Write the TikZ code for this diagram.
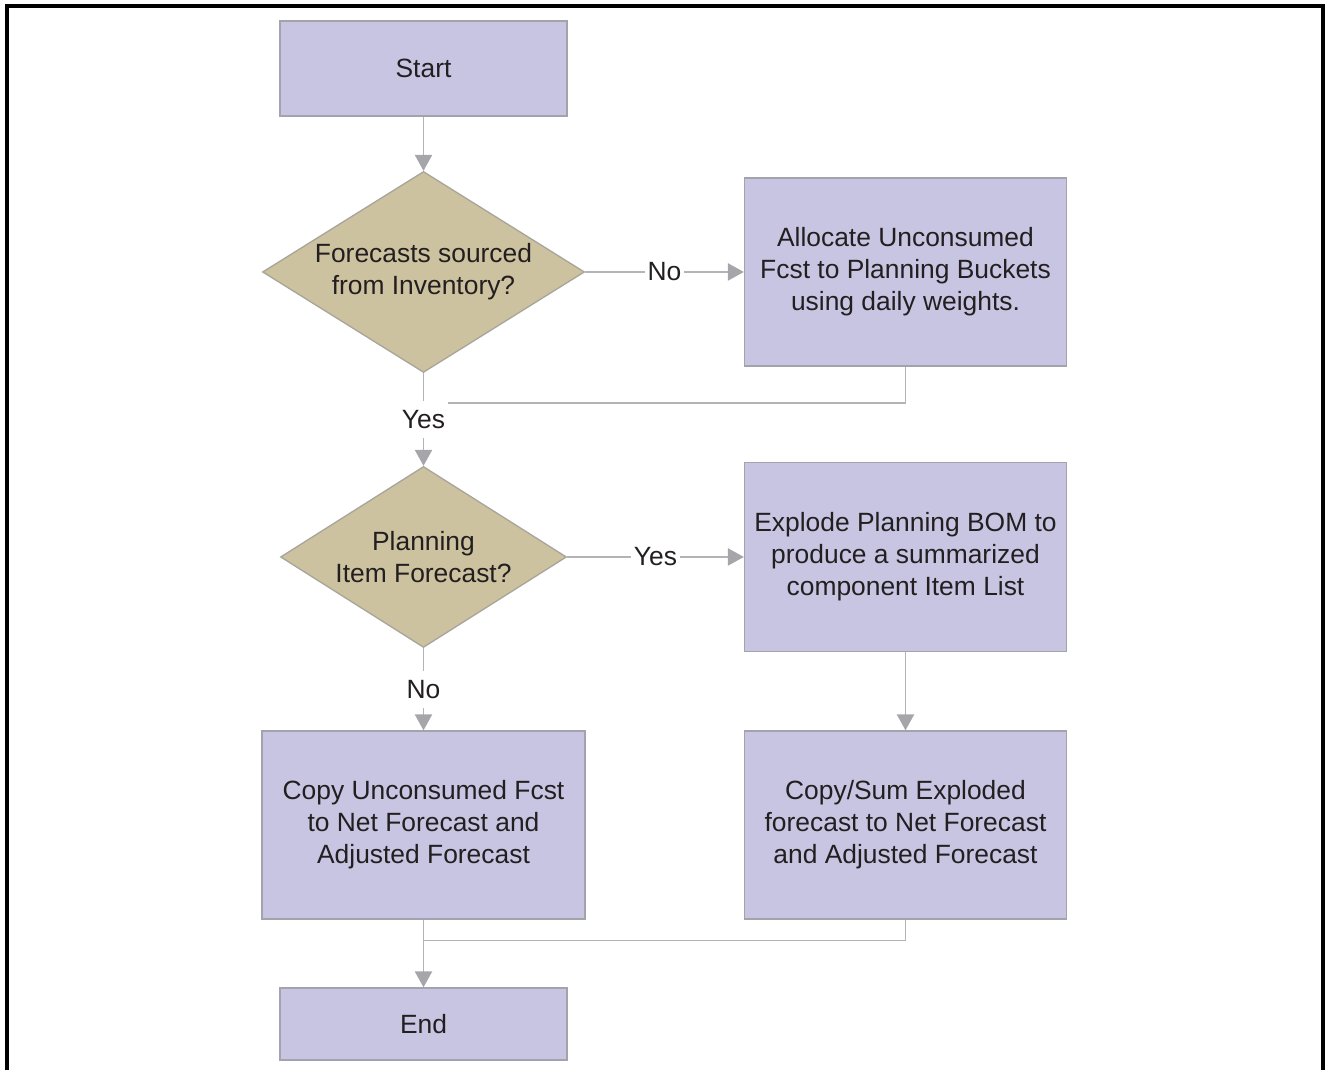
\documentclass[tikz,border=0pt]{standalone}
\usepackage{fontspec}
\setmainfont{Liberation Sans}
\usepackage{xcolor}
\usetikzlibrary{arrows.meta, shapes.geometric, calc, positioning}
\definecolor{boxfill}{HTML}{C7C5E2}
\definecolor{boxline}{HTML}{A3A3AD}
\definecolor{decfill}{HTML}{CDC29F}
\definecolor{decline}{HTML}{A8A59A}
\definecolor{wire}{HTML}{B4B4B6}
\definecolor{tipgray}{HTML}{A6A6AA}
\definecolor{ink}{HTML}{231F20}
\newcommand\flowfont{\fontsize{19.8}{24}\selectfont}
\tikzset{
  % connector style
  garr/.style={
    draw=wire
    , line width=1.1pt
    , >={Triangle[width=13pt,length=12pt,color=tipgray]}
  },
  % label sitting on a connector
  glbl/.style={
    fill=white
    , text=ink
    , inner xsep=2pt
    , inner ysep=7pt
    , font=\flowfont
  },
}
\tikzset{
  %process box style
  procbox/.style={
    draw=boxline
    , fill=boxfill
    , text=ink
    , line width=1pt
    , align=center
    , font=\flowfont
  },
  %decision style
  decision/.style={
    diamond
    , draw=decline
    , fill=decfill
    , text=ink
    , line width=1pt
    , aspect=1.6
    , inner sep=0pt
    , align=center
    , font=\flowfont
  },
}

\begin{document}
\begin{tikzpicture}
      \useasboundingbox (-317.625pt,51.375pt) rectangle (676.875pt,-751.125pt);
      \draw[line width=2.3pt] (-312.375pt,-751.125pt) -- (-312.375pt,46.875pt)
        -- (674.625pt,46.875pt) -- (674.625pt,-751.125pt);

      \node[procbox, minimum width=215.25pt, minimum height=71.25pt] (start) {Start};
      \node[decision, below of=start, node distance=152.6pt,
        minimum width=241.5pt, minimum height=150.75pt] (srcinv) {Forecasts sourced\\from Inventory?};
      \node[procbox, right of=srcinv, node distance=361.5pt,
        minimum width=241.5pt, minimum height=141pt] (alloc) {Allocate Unconsumed\\Fcst to Planning Buckets\\using daily weights.};
      \node[decision, below of=srcinv, node distance=213.75pt,
        minimum width=214.5pt, minimum height=135.75pt] (planitem) {Planning\\Item Forecast?};
      \node[procbox, right of=planitem, node distance=361.5pt,
        minimum width=241.5pt, minimum height=141.75pt] (explode) {Explode Planning BOM to\\produce a summarized\\component Item List};
      \node[procbox, below of=planitem, node distance=201pt,
        minimum width=242.25pt, minimum height=141pt] (copyfc) {Copy Unconsumed Fcst\\to Net Forecast and\\Adjusted Forecast};
      \node[procbox, right of=copyfc, node distance=361.5pt,
        minimum width=241.5pt, minimum height=141pt] (copysum) {Copy/Sum Exploded\\forecast to Net Forecast\\and Adjusted Forecast};
      \node[procbox, below of=copyfc, node distance=149.25pt,
        minimum width=215.25pt, minimum height=54pt] (end) {End};

      \coordinate (join1) at ([yshift=-22.5pt]srcinv.south);
      \coordinate (join2) at ([yshift=-15.75pt]copyfc.south);

      \draw[garr,->] (start.south) -- (srcinv.north);
      \draw[garr,->] (srcinv.east) -- node[glbl] {No} (alloc.west);
      \draw[garr] (alloc.south) |- (join1);
      \draw[garr,->] (srcinv.south) -- node[glbl] {Yes} (planitem.north);

      \draw[garr,->] (planitem.east) -- node[glbl] {Yes} (explode.west);
      \draw[garr,->] (planitem.south) -- node[glbl] {No} (copyfc.north);
      \draw[garr,->] (explode.south) -- (copysum.north);

      \draw[garr] (copysum.south) |- (join2);
      \draw[garr,->] (copyfc.south) -- (end.north);
    \end{tikzpicture}
\end{document}
